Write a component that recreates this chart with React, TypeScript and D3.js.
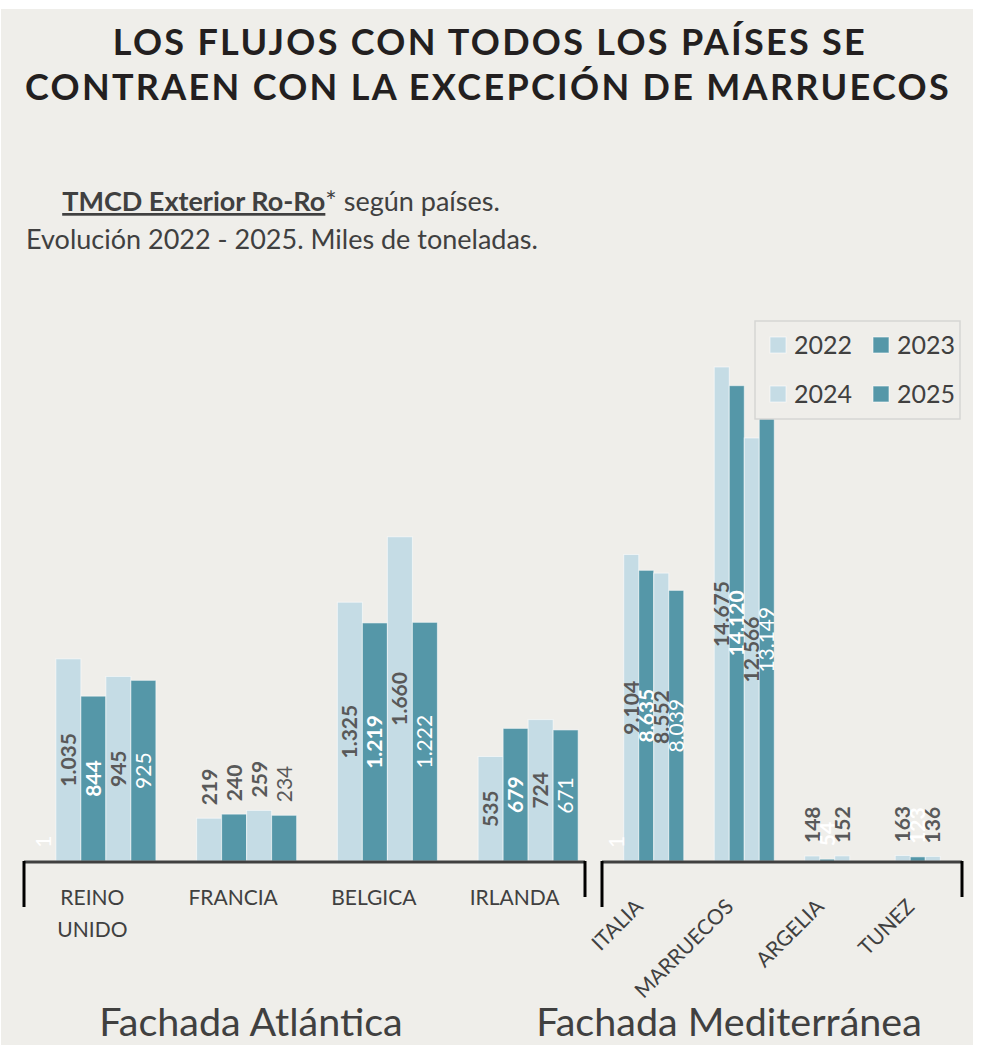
import React from "react";
import * as d3 from "d3";

// data (miles de toneladas)
const years = ["2022", "2023", "2024", "2025"];
const atlCountries = ["REINO UNIDO", "FRANCIA", "BELGICA", "IRLANDA"];
const medCountries = ["ITALIA", "MARRUECOS", "ARGELIA", "TUNEZ"];

// hidden helper series shown only through its white "1" label
const atlHidden = [1, null, null, null];
const atl2022 = [1035, 219, 1325, 535];
const atl2023 = [844, 240, 1219, 679];
const atl2024 = [945, 259, 1660, 724];
const atl2025 = [925, 234, 1222, 671];

const medHidden = [1, null, null, null];
const med2022 = [9104, 14675, 148, 163];
const med2023 = [8635, 14120, 54, 123];
const med2024 = [8552, 12566, 152, 136];
const med2025 = [8039, 13149, null, null];

const panelTitles = ["Fachada Atlántica", "Fachada Mediterránea"];

const LIGHT = "#c5dce5";
const DARK = "#5597a8";
const seriesColors = ["none", LIGHT, DARK, LIGHT, DARK];
const TEXT = "#404040";
const LABEL = "#595959";
const BG = "#efeeea";
const FONT = "Lato, 'Noto Sans', sans-serif";

const fmt = d3.formatLocale({
  decimal: ",",
  thousands: ".",
  grouping: [3],
  currency: ["", " €"],
}).format(",d");

const baseY = 861;

const panels = [
  {
    key: "atl",
    cats: atlCountries,
    series: [atlHidden, atl2022, atl2023, atl2024, atl2025],
    xRange: [22, 585],
    barW: 25,
    y: d3.scaleLinear().domain([0, 2000]).range([baseY, baseY - 390.6]),
    outsideWhite: false,
    title: panelTitles[0],
    titleX: 251,
  },
  {
    key: "med",
    cats: medCountries,
    series: [medHidden, med2022, med2023, med2024, med2025],
    xRange: [600, 962],
    barW: 15,
    y: d3.scaleLinear().domain([0, 16000]).range([baseY, baseY - 538.6]),
    outsideWhite: true,
    title: panelTitles[1],
    titleX: 729,
  },
];

const Panel = ({ p }) => {
  const x = d3.scaleBand().domain(p.cats).range(p.xRange).padding(0);
  const [x0, x1] = p.xRange;
  const bars = [];
  const labels = [];
  p.series.forEach((vals, s) => {
    vals.forEach((v, i) => {
      if (v === null) return;
      const cx0 = x(p.cats[i]) + x.bandwidth() / 2 + 1 - 2.5 * p.barW;
      const bx = cx0 + s * p.barW;
      const top = p.y(v);
      const h = baseY - top;
      if (s > 0) {
        bars.push(
          <rect
            key={`b${s}-${i}`}
            x={bx}
            y={top}
            width={p.barW}
            height={h}
            fill={seriesColors[s]}
            stroke="#ffffff"
            strokeOpacity={0.55}
            strokeWidth={1}
          />
        );
      }
      const inside = h > 62;
      const lx = bx + p.barW / 2;
      const ly = inside ? (top + baseY) / 2 : top - 13;
      const darkSeries = s === 2 || s === 4;
      let fill = LABEL;
      if (s === 0) fill = "#ffffff";
      else if (darkSeries && (inside || p.outsideWhite)) fill = "#ffffff";
      labels.push(
        <text
          key={`l${s}-${i}`}
          x={lx}
          y={ly}
          dy="0.36em"
          transform={`rotate(-90, ${lx}, ${ly})`}
          textAnchor={inside ? "middle" : "start"}
          fontFamily={FONT}
          fontSize={21}
          fontWeight={s === 4 || s === 0 ? 400 : 700}
          fill={fill}
        >
          {fmt(v)}
        </text>
      );
    });
  });

  return (
    <g>
      {bars}
      {labels}
      {/* bracket-shaped category axis */}
      <path
        d={`M${x0 + 2},${baseY + 1}H${x1}`}
        stroke="#404040"
        strokeWidth={3}
        fill="none"
      />
      <line x1={x0 + 2} x2={x0 + 2} y1={baseY} y2={baseY + 46} stroke="#000" strokeWidth={3} />
      <line x1={x1} x2={x1} y1={baseY} y2={baseY + 36} stroke="#000" strokeWidth={3} />
      {p.key === "atl"
        ? p.cats.map((c) => {
            const cx = x(c) + x.bandwidth() / 2;
            const parts = c === "REINO UNIDO" ? ["REINO", "UNIDO"] : [c];
            return (
              <text key={c} x={cx} y={905} textAnchor="middle" fontFamily={FONT} fontSize={21} fill={TEXT}>
                {parts.map((t, k) => (
                  <tspan key={k} x={cx} dy={k === 0 ? 0 : 32}>
                    {t}
                  </tspan>
                ))}
              </text>
            );
          })
        : p.cats.map((c) => {
            const ax = x(c) + x.bandwidth() / 2 - 1;
            const ay = 908;
            return (
              <text
                key={c}
                x={ax}
                y={ay}
                transform={`rotate(-45, ${ax}, ${ay})`}
                textAnchor="end"
                fontFamily={FONT}
                fontSize={21}
                fill={TEXT}
              >
                {c}
              </text>
            );
          })}
      <text x={p.titleX} y={1036} textAnchor="middle" fontFamily={FONT} fontSize={39.5} fill={TEXT}>
        {p.title}
      </text>
    </g>
  );
};

const Legend = () => {
  const pos = [
    [770, 337],
    [873, 337],
    [770, 386],
    [873, 386],
  ];
  return (
    <g>
      <rect x={755} y={321} width={205} height={98} fill={BG} stroke="#d6d6d4" strokeWidth={1.5} />
      {years.map((yr, k) => (
        <g key={yr}>
          <rect
            x={pos[k][0]}
            y={pos[k][1]}
            width={16}
            height={16}
            fill={seriesColors[k + 1]}
            stroke="#ffffff"
            strokeOpacity={0.6}
          />
          <text x={pos[k][0] + 24} y={pos[k][1] + 17} fontFamily={FONT} fontSize={25} fill={TEXT}>
            {yr}
          </text>
        </g>
      ))}
    </g>
  );
};

export default function App() {
  return (
    <svg
      width={1001}
      height={1045}
      style={{ position: "absolute", left: 0, top: 0, display: "block" }}
    >
      <rect x={0} y={0} width={1001} height={1045} fill="#ffffff" />
      <rect x={1} y={9} width={972} height={1036} fill={BG} />
      <g fontFamily={FONT} fontWeight={700} fontSize={36} fill="#231f20" letterSpacing={2.3}>
        <text x={490} y={55} textAnchor="middle">
          LOS FLUJOS CON TODOS LOS PAÍSES SE
        </text>
        <text x={488} y={100} textAnchor="middle">
          CONTRAEN CON LA EXCEPCIÓN DE MARRUECOS
        </text>
      </g>
      <text x={281} y={211} textAnchor="middle" fontFamily={FONT} fontSize={27} fill={TEXT}>
        <tspan fontWeight={700} textDecoration="underline">
          TMCD Exterior Ro-Ro
        </tspan>
        <tspan>* según países.</tspan>
      </text>
      <text x={282} y={249} textAnchor="middle" fontFamily={FONT} fontSize={27} fill={TEXT}>
        Evolución 2022 - 2025. Miles de toneladas.
      </text>
      {panels.map((p) => (
        <Panel key={p.key} p={p} />
      ))}
      <Legend />
    </svg>
  );
}
